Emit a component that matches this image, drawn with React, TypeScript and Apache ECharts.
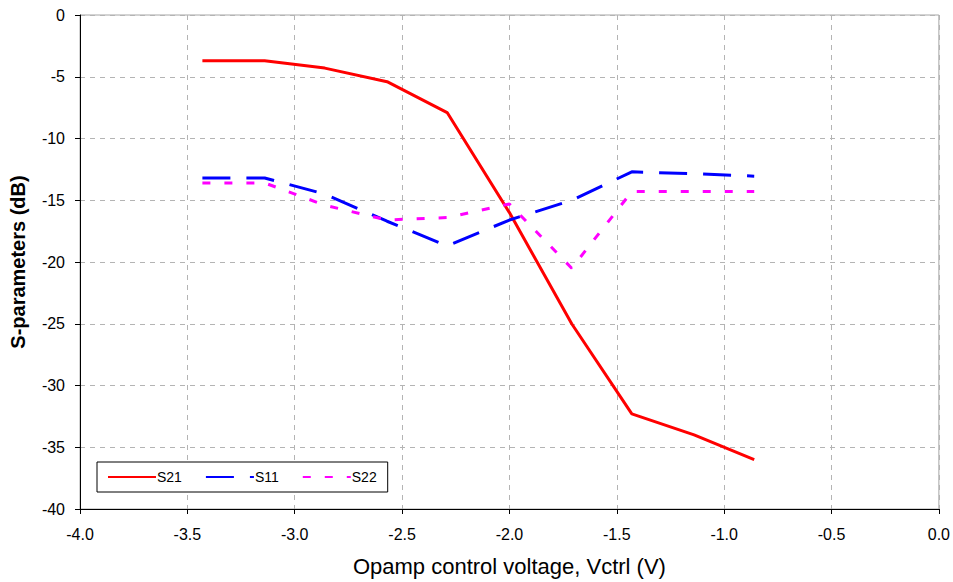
import React, { useEffect, useRef } from "react";
import * as echarts from "echarts";

const vctrl = [-3.43, -3.14, -2.86, -2.57, -2.29, -2.0, -1.71, -1.43, -1.14, -0.86];
const s21 = [-3.7, -3.7, -4.3, -5.4, -7.9, -16.0, -25.0, -32.3, -34.0, -36.0];
const s11 = [-13.2, -13.2, -14.5, -16.7, -18.7, -16.6, -15.0, -12.7, -12.85, -13.05];
const s22 = [-13.6, -13.6, -15.4, -16.6, -16.4, -15.3, -20.5, -14.3, -14.3, -14.3];
const seriesNames = ["S21", "S11", "S22"];

const FONT = "'Liberation Sans', Arial, sans-serif";

export default function App() {
  const ref = useRef<HTMLDivElement>(null);
  useEffect(() => {
    if (!ref.current) return;
    const chart = echarts.init(ref.current, null, { renderer: "svg" });
    const pair = (ys: number[]) => vctrl.map((x, i) => [x, ys[i]]);
    chart.setOption({
      animation: false,
      backgroundColor: "#ffffff",
      textStyle: { fontFamily: FONT },
      grid: {
        left: 80,
        right: 13,
        top: 15,
        bottom: 72,
        show: true,
        borderColor: "#a6a6a6",
        borderWidth: 1,
        backgroundColor: "transparent",
      },
      legend: {
        left: 97,
        top: 462,
        orient: "horizontal",
        padding: [8, 11, 8, 10],
        itemWidth: 48,
        itemHeight: 14,
        itemGap: 23,
        itemStyle: { opacity: 0 },
        borderColor: "#000",
        borderWidth: 1,
        backgroundColor: "#fff",
        textStyle: { fontFamily: FONT, fontSize: 14, color: "#000", padding: [0, 0, 0, -4] },
        data: seriesNames,
      },
      xAxis: {
        type: "value",
        min: -4,
        max: 0,
        interval: 0.5,
        name: "Opamp control voltage, Vctrl (V)",
        nameLocation: "middle",
        nameGap: 46,
        nameTextStyle: { fontFamily: FONT, fontSize: 22, color: "#000", verticalAlign: "top" },
        axisLine: { onZero: false, lineStyle: { color: "#000", width: 1 } },
        axisTick: { show: true, inside: false, length: 5, lineStyle: { color: "#000" } },
        axisLabel: {
          fontFamily: FONT,
          fontSize: 16,
          color: "#000",
          margin: 17,
          formatter: (v: number) => v.toFixed(1),
        },
        splitLine: { show: true, lineStyle: { color: "#b4b4b4", type: [5, 5], width: 1 } },
      },
      yAxis: {
        type: "value",
        min: -40,
        max: 0,
        interval: 5,
        name: "S-parameters (dB)",
        nameLocation: "middle",
        nameGap: 52,
        nameTextStyle: { fontFamily: FONT, fontSize: 20, fontWeight: "bold", color: "#000" },
        axisLine: { onZero: false, lineStyle: { color: "#000", width: 1 } },
        axisTick: { show: true, inside: false, length: 5, lineStyle: { color: "#000" } },
        axisLabel: { fontFamily: FONT, fontSize: 16, color: "#000", margin: 15 },
        splitLine: { show: true, lineStyle: { color: "#b4b4b4", type: [5, 5], width: 1 } },
      },
      series: [
        {
          name: "S21",
          type: "line",
          data: pair(s21),
          symbol: "none",
          color: "#ff0000",
          lineStyle: { color: "#ff0000", width: 3, type: "solid" },
        },
        {
          name: "S11",
          type: "line",
          data: pair(s11),
          symbol: "none",
          color: "#0000ff",
          lineStyle: { color: "#0000ff", width: 3, type: [28, 16] },
        },
        {
          name: "S22",
          type: "line",
          data: pair(s22),
          symbol: "none",
          color: "#ff00ff",
          lineStyle: { color: "#ff00ff", width: 3, type: [8, 14] },
        },
      ],
    });
    return () => chart.dispose();
  }, []);
  return (
    <div
      ref={ref}
      style={{ position: "absolute", left: 0, top: 0, width: 953, height: 582, background: "#fff" }}
    />
  );
}
